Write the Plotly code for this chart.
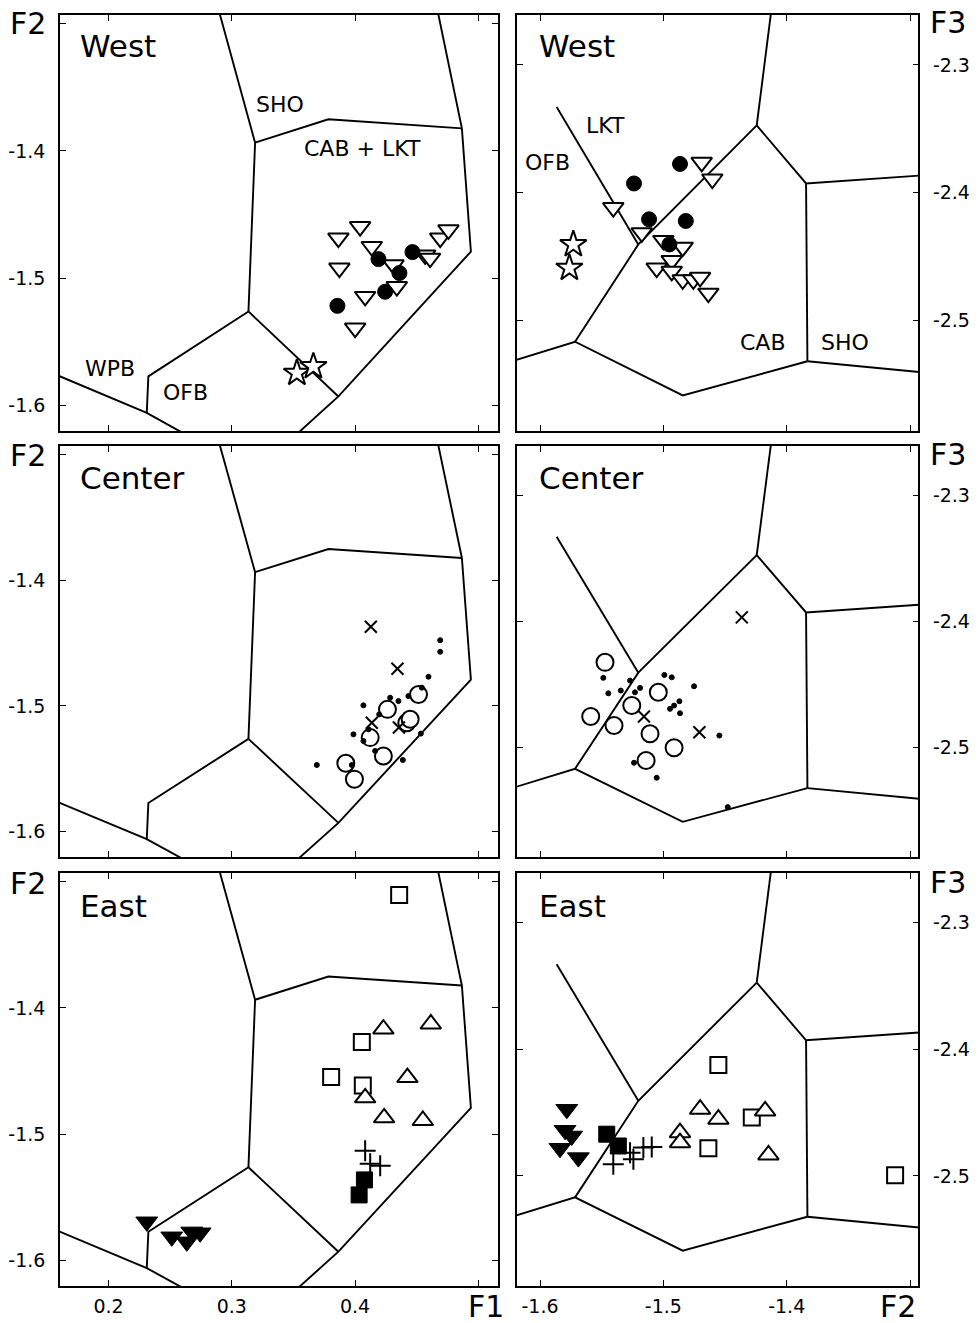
import plotly.graph_objects as go

W, H = 979, 1323
FONT = "DejaVu Sans"

# ---------------- axis ticks ----------------
F1_TICKS = [0.2, 0.3, 0.4, 0.5]
F1_TICKTEXT = ["0.2", "0.3", "0.4", ""]
F2_TICKS = [-1.6, -1.5, -1.4, -1.3]
F2_TICKTEXT = ["-1.6", "-1.5", "-1.4", ""]
F3_TICKS = [-2.5, -2.4, -2.3]
F3_TICKTEXT = ["-2.5", "-2.4", "-2.3"]
F1_RANGE = [0.1606, 0.516]
F2_RANGE = [-1.6204, -1.2930]
F2X_RANGE = [-1.6189, -1.2933]
F3_RANGE = [-2.587, -2.2608]

# ---------------- field boundaries (F1-F2 diagram) ----------------
BND12_A_X = [0.2882, 0.3189, 0.3135]
BND12_A_Y = [-1.285, -1.3935, -1.5263]
BND12_B_X = [0.3189, 0.3784, 0.4867]
BND12_B_Y = [-1.3935, -1.3751, -1.3822]
BND12_C_X = [0.4660, 0.4867, 0.4940, 0.3865, 0.3503]
BND12_C_Y = [-1.285, -1.3822, -1.4792, -1.5932, -1.625]
BND12_D_X = [0.3135, 0.3865]
BND12_D_Y = [-1.5263, -1.5932]
BND12_E_X = [0.3135, 0.2323, 0.2310]
BND12_E_Y = [-1.5263, -1.5774, -1.6062]
BND12_F_X = [0.155, 0.2310, 0.2660]
BND12_F_Y = [-1.5751, -1.6062, -1.625]

# ---------------- field boundaries (F2-F3 diagram) ----------------
BND23_G_X = [-1.4122, -1.4243]
BND23_G_Y = [-2.255, -2.3474]
BND23_H_X = [-1.4243, -1.3843, -1.29]
BND23_H_Y = [-2.3474, -2.3929, -2.3866]
BND23_I_X = [-1.3843, -1.3832]
BND23_I_Y = [-2.3929, -2.5323]
BND23_J_X = [-1.3832, -1.29]
BND23_J_Y = [-2.5323, -2.5410]
BND23_K_X = [-1.3832, -1.4843, -1.5716, -1.625]
BND23_K_Y = [-2.5323, -2.5591, -2.5170, -2.5330]
BND23_L_X = [-1.5716, -1.5203, -1.4243]
BND23_L_Y = [-2.5170, -2.4407, -2.3474]
BND23_M_X = [-1.5865, -1.5203]
BND23_M_Y = [-2.3329, -2.4407]

# ---------------- WEST ----------------
W12_TRI_F1 = [0.3865, 0.4041, 0.4136, 0.3873, 0.4312, 0.4339, 0.4082, 0.4001, 0.4569, 0.4609, 0.4691, 0.4758]
W12_TRI_F2 = [-1.4686, -1.4595, -1.4752, -1.4922, -1.4896, -1.5067, -1.5145, -1.5394, -1.4818, -1.4844, -1.4686, -1.4621]
W12_DOT_F1 = [0.4190, 0.4466, 0.4360, 0.4244, 0.3857]
W12_DOT_F2 = [-1.4851, -1.4796, -1.4961, -1.5108, -1.5219]
W12_STAR_F1 = [0.3528, 0.3662]
W12_STAR_F2 = [-1.5748, -1.5696]

W23_TRI_F2 = [-1.4689, -1.4603, -1.5406, -1.5175, -1.5000, -1.4843, -1.4932, -1.5054, -1.4932, -1.4843, -1.4757, -1.4702, -1.4635]
W23_TRI_F3 = [-2.3763, -2.3894, -2.4118, -2.4316, -2.4376, -2.4429, -2.4534, -2.4592, -2.4618, -2.4684, -2.4684, -2.4665, -2.4789]
W23_DOT_F2 = [-1.4865, -1.5238, -1.5116, -1.4818, -1.4951]
W23_DOT_F3 = [-2.3776, -2.3929, -2.4210, -2.4223, -2.4407]
W23_STAR_F2 = [-1.5730, -1.5762]
W23_STAR_F3 = [-2.4407, -2.4592]

# ---------------- CENTER ----------------
C12_X_F1 = [0.4128, 0.4344, 0.4136, 0.4356]
C12_X_F2 = [-1.4370, -1.4704, -1.5134, -1.5173]
C12_CIR_F1 = [0.4515, 0.4263, 0.4420, 0.4447, 0.4123, 0.4230, 0.3925, 0.3995]
C12_CIR_F2 = [-1.4909, -1.5028, -1.5134, -1.5107, -1.5253, -1.5399, -1.5457, -1.5584]
C12_PT_F1 = [0.4691, 0.4691, 0.4596, 0.4542, 0.4433, 0.4285, 0.4352, 0.4068, 0.4196, 0.4109,
             0.4068, 0.3987, 0.4163, 0.4534, 0.4388, 0.3974, 0.3690]
C12_PT_F2 = [-1.4477, -1.4569, -1.4768, -1.4855, -1.4922, -1.4935, -1.4962, -1.4996, -1.5068, -1.5187,
             -1.5280, -1.5227, -1.5359, -1.5221, -1.5431, -1.5471, -1.5471]

C23_X_F2 = [-1.5157, -1.4708, -1.4364]
C23_X_F3 = [-2.4755, -2.4880, -2.3968]
C23_CIR_F2 = [-1.5473, -1.5041, -1.5256, -1.5589, -1.5400, -1.5108, -1.4913, -1.5140]
C23_CIR_F3 = [-2.4325, -2.4563, -2.4668, -2.4755, -2.4826, -2.4892, -2.5003, -2.5104]
C23_PT_F2 = [-1.5487, -1.5270, -1.5446, -1.5345, -1.5230, -1.5189, -1.4992, -1.4932, -1.4751,
             -1.4946, -1.4913, -1.4870, -1.4865, -1.4546, -1.5238, -1.5054, -1.4478]
C23_PT_F3 = [-2.4448, -2.4470, -2.4571, -2.4549, -2.4563, -2.4528, -2.4425, -2.4444, -2.4515,
             -2.4694, -2.4668, -2.4634, -2.4729, -2.4906, -2.5122, -2.5241, -2.5474]

# ---------------- EAST ----------------
E12_SQ_F1 = [0.4358, 0.4055, 0.3806, 0.4063]
E12_SQ_F2 = [-1.3105, -1.4269, -1.4547, -1.4614]
E12_TRI_F1 = [0.4230, 0.4615, 0.4425, 0.4082, 0.4236, 0.4550]
E12_TRI_F2 = [-1.4167, -1.4127, -1.4552, -1.4712, -1.4871, -1.4892]
E12_PLUS_F1 = [0.4082, 0.4123, 0.4204]
E12_PLUS_F2 = [-1.5131, -1.5235, -1.5250]
E12_FSQ_F1 = [0.4076, 0.4033]
E12_FSQ_F2 = [-1.5363, -1.5482]
E12_FTRI_F1 = [0.2310, 0.2513, 0.2635, 0.2675, 0.2743]
E12_FTRI_F2 = [-1.5695, -1.5814, -1.5854, -1.5775, -1.5782]

E23_SQ_F2 = [-1.4554, -1.4283, -1.4635, -1.3121]
E23_SQ_F3 = [-2.4124, -2.4540, -2.4782, -2.4995]
E23_TRI_F2 = [-1.4702, -1.4554, -1.4175, -1.4865, -1.4865, -1.4148]
E23_TRI_F3 = [-2.4474, -2.4553, -2.4487, -2.4659, -2.4738, -2.4835]
E23_PLUS_F2 = [-1.5270, -1.5162, -1.5094, -1.5406, -1.5243]
E23_PLUS_F3 = [-2.4817, -2.4777, -2.4772, -2.4908, -2.4869]
E23_FSQ_F2 = [-1.5459, -1.5365]
E23_FSQ_F3 = [-2.4671, -2.4764]
E23_FTRI_F2 = [-1.5783, -1.5797, -1.5743, -1.5838, -1.5689]
E23_FTRI_F3 = [-2.4474, -2.4640, -2.4685, -2.4782, -2.4856]

# ---------------- layout geometry (pixels) ----------------
COL_X = [(60, 498), (516.7, 918.3)]
ROW_Y = [(15, 431), (446, 857), (873, 1286)]

fig = go.Figure()

BND12 = [(BND12_A_X, BND12_A_Y), (BND12_B_X, BND12_B_Y), (BND12_C_X, BND12_C_Y),
         (BND12_D_X, BND12_D_Y), (BND12_E_X, BND12_E_Y), (BND12_F_X, BND12_F_Y)]
BND23 = [(BND23_G_X, BND23_G_Y), (BND23_H_X, BND23_H_Y), (BND23_I_X, BND23_I_Y),
         (BND23_J_X, BND23_J_Y), (BND23_K_X, BND23_K_Y), (BND23_L_X, BND23_L_Y),
         (BND23_M_X, BND23_M_Y)]


def ax(r, c):
    i = r * 2 + c + 1
    return ("x" if i == 1 else f"x{i}"), ("y" if i == 1 else f"y{i}")


for r in range(3):
    for c in range(2):
        xa, ya = ax(r, c)
        for bx, by in (BND12 if c == 0 else BND23):
            fig.add_trace(go.Scatter(x=bx, y=by, mode="lines", xaxis=xa, yaxis=ya,
                                     line=dict(color="black", width=1.9), hoverinfo="skip"))

OPEN = dict(color="white", line=dict(color="black", width=2))
FILL = dict(color="black", line=dict(color="black", width=1))
XSTY = dict(color="black", line=dict(color="black", width=2))


def pts(r, c, x, y, symbol, size, style):
    xa, ya = ax(r, c)
    m = dict(symbol=symbol, size=size, **style)
    fig.add_trace(go.Scatter(x=x, y=y, mode="markers", xaxis=xa, yaxis=ya, marker=m, cliponaxis=False))


# West
pts(0, 0, W12_TRI_F1, W12_TRI_F2, "triangle-down", 18, OPEN)
pts(0, 0, W12_DOT_F1, W12_DOT_F2, "circle", 15, FILL)
pts(0, 0, W12_STAR_F1, W12_STAR_F2, "star", 20, OPEN)
pts(0, 1, W23_TRI_F2, W23_TRI_F3, "triangle-down", 18, OPEN)
pts(0, 1, W23_DOT_F2, W23_DOT_F3, "circle", 15, FILL)
pts(0, 1, W23_STAR_F2, W23_STAR_F3, "star", 20, OPEN)
# Center
pts(1, 0, C12_CIR_F1, C12_CIR_F2, "circle", 17, OPEN)
pts(1, 0, C12_PT_F1, C12_PT_F2, "circle", 5, FILL)
pts(1, 0, C12_X_F1, C12_X_F2, "x-thin", 12, XSTY)
pts(1, 1, C23_CIR_F2, C23_CIR_F3, "circle", 17, OPEN)
pts(1, 1, C23_PT_F2, C23_PT_F3, "circle", 5, FILL)
pts(1, 1, C23_X_F2, C23_X_F3, "x-thin", 12, XSTY)
# East
pts(2, 0, E12_SQ_F1, E12_SQ_F2, "square", 16, OPEN)
pts(2, 0, E12_TRI_F1, E12_TRI_F2, "triangle-up", 18, OPEN)
pts(2, 0, E12_PLUS_F1, E12_PLUS_F2, "cross-thin", 15, XSTY)
pts(2, 0, E12_FSQ_F1, E12_FSQ_F2, "square", 16, FILL)
pts(2, 0, E12_FTRI_F1, E12_FTRI_F2, "triangle-down", 19, FILL)
pts(2, 1, E23_SQ_F2, E23_SQ_F3, "square", 16, OPEN)
pts(2, 1, E23_TRI_F2, E23_TRI_F3, "triangle-up", 18, OPEN)
pts(2, 1, E23_PLUS_F2, E23_PLUS_F3, "cross-thin", 15, XSTY)
pts(2, 1, E23_FSQ_F2, E23_FSQ_F3, "square", 16, FILL)
pts(2, 1, E23_FTRI_F2, E23_FTRI_F3, "triangle-down", 19, FILL)

layout = dict(width=W, height=H, margin=dict(l=0, r=0, t=0, b=0),
              paper_bgcolor="white", plot_bgcolor="white", showlegend=False,
              font=dict(family=FONT, color="black"))

AXCOMMON = dict(showgrid=False, zeroline=False, showline=True, linecolor="black", linewidth=1.6,
                mirror="ticks", ticks="inside", ticklen=6, tickwidth=1.3, tickcolor="black",
                tickfont=dict(family=FONT, size=19, color="black"))

for r in range(3):
    for c in range(2):
        i = r * 2 + c + 1
        xk = "xaxis" if i == 1 else f"xaxis{i}"
        yk = "yaxis" if i == 1 else f"yaxis{i}"
        x0, x1 = COL_X[c]
        y0, y1 = ROW_Y[r]
        xa_id, ya_id = ax(r, c)
        xd = dict(AXCOMMON, domain=[x0 / W, x1 / W], anchor=ya_id, fixedrange=True,
                  showticklabels=(r == 2), ticklabelstandoff=2)
        yd = dict(AXCOMMON, domain=[1 - y1 / H, 1 - y0 / H], anchor=xa_id, fixedrange=True,
                  ticklabelstandoff=9)
        if c == 0:
            xd.update(range=F1_RANGE, tickvals=F1_TICKS, ticktext=F1_TICKTEXT)
            yd.update(range=F2_RANGE, tickvals=F2_TICKS, ticktext=F2_TICKTEXT, side="left")
        else:
            xd.update(range=F2X_RANGE, tickvals=F2_TICKS, ticktext=F2_TICKTEXT)
            yd.update(range=F3_RANGE, tickvals=F3_TICKS, ticktext=F3_TICKTEXT, side="right")
        layout[xk] = xd
        layout[yk] = yd

ann = []


def text(x, y, s, size, xanchor="center"):
    ann.append(dict(x=x / W, y=1 - y / H, xref="paper", yref="paper", text=s, showarrow=False,
                    xanchor=xanchor, yanchor="middle", font=dict(family=FONT, size=size, color="black")))


REGIONS = ["West", "Center", "East"]
REGION_Y = [46, 478, 906]
AXLAB_Y = [23, 455, 883]
for r in range(3):
    text(78, REGION_Y[r], REGIONS[r], 31, "left")
    text(537, REGION_Y[r], REGIONS[r], 31, "left")
    text(28, AXLAB_Y[r], "F2", 30)
    text(948, AXLAB_Y[r] - 1, "F3", 30)
text(486, 1306, "F1", 30)
text(898, 1306, "F2", 30)

# field labels (top row only)
text(280, 105, "SHO", 22)
text(362, 148, "CAB + LKT", 22)
text(110, 368, "WPB", 22)
text(185, 392, "OFB", 22)
text(605, 125, "LKT", 22)
text(547, 162, "OFB", 22)
text(763, 342, "CAB", 22)
text(845, 342, "SHO", 22)

layout["annotations"] = ann
fig.update_layout(**layout)
fig.write_html("out.html")
